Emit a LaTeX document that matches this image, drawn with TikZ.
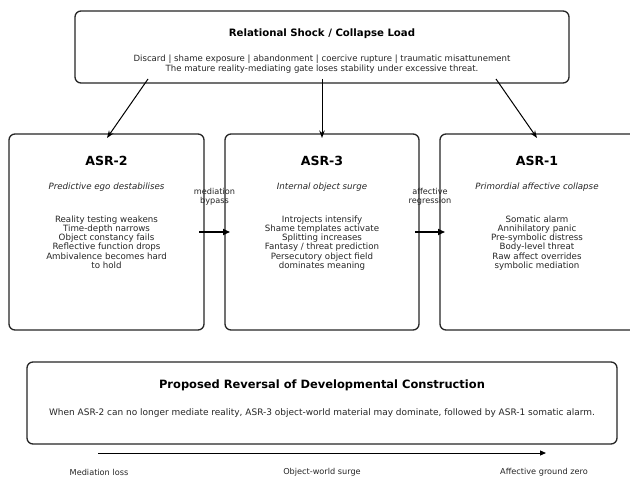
\documentclass[tikz,border=0pt]{standalone}
\usepackage{fontspec}
\setmainfont{DejaVu Sans}
\usetikzlibrary{arrows.meta}
\begin{document}
\begin{tikzpicture}[x=1bp,y=-1bp,
  panel/.style={draw=black!85,line width=1.3bp,rounded corners=6bp},
  ttl/.style={font=\fontsize{10.2}{12}\selectfont\bfseries},
  asrttl/.style={font=\fontsize{12.6}{14}\selectfont\bfseries},
  sub/.style={font=\fontsize{8.7}{10}\selectfont\itshape,text=black!85},
  body/.style={font=\fontsize{8.7}{9.1}\selectfont,align=center,text=black!85,anchor=north,inner sep=0pt},
  lbl/.style={font=\fontsize{8.2}{9.2}\selectfont,align=center,text=black!85},
  arr/.style={-{Stealth[length=7.5bp,width=5.5bp]},line width=1bp},
  harr/.style={-{Triangle[length=7bp,width=6bp]},line width=1.6bp}]
\useasboundingbox[fill=white] (0,0) rectangle (630,478);

% top box: relational shock
\draw[panel] (75,11) rectangle (569,83);
\node[ttl] (shock) at (322,34) {Relational Shock / Collapse Load};
\node[body,font=\fontsize{8.6}{9.6}\selectfont] (shockbody) at (322,55) {Discard | shame exposure | abandonment | coercive rupture | traumatic misattunement\\The mature reality-mediating gate loses stability under excessive threat.};

% three ASR panels
\draw[panel] (9,134) rectangle (204,330);
\draw[panel] (225,134) rectangle (419,330);
\draw[panel] (440,134) rectangle (640,330);

\node[asrttl] (t2) at (106.5,161) {ASR-2};
\node[sub] (s2) at (106.5,187) {Predictive ego destabilises};
\node[body] (b2) at (106.5,216) {Reality testing weakens\\Time-depth narrows\\Object constancy fails\\Reflective function drops\\Ambivalence becomes hard\\to hold};

\node[asrttl] (t3) at (322,161) {ASR-3};
\node[sub] (s3) at (322,187) {Internal object surge};
\node[body] (b3) at (322,216) {Introjects intensify\\Shame templates activate\\Splitting increases\\Fantasy / threat prediction\\Persecutory object field\\dominates meaning};

\node[asrttl] (t1) at (537,161) {ASR-1};
\node[sub] (s1) at (537,187) {Primordial affective collapse};
\node[body] (b1) at (537,216) {Somatic alarm\\Annihilatory panic\\Pre-symbolic distress\\Body-level threat\\Raw affect overrides\\symbolic mediation};

% arrows from the shock box
\coordinate (a1s) at (148,79); \coordinate (a1e) at (107,138);
\coordinate (a2s) at (322,79); \coordinate (a2e) at (322,138);
\coordinate (a3s) at (496,79); \coordinate (a3e) at (537,138);
\draw[arr] (a1s) -- (a1e);
\draw[arr] (a2s) -- (a2e);
\draw[arr] (a3s) -- (a3e);

% transitions between panels
\coordinate (h1s) at (199,232); \coordinate (h1e) at (230,232);
\coordinate (h2s) at (415,232); \coordinate (h2e) at (445,232);
\draw[harr] (h1s) -- (h1e);
\draw[harr] (h2s) -- (h2e);
\node[lbl] (m1) at (214.5,197) {mediation\\bypass};
\node[lbl] (m2) at (430,197) {affective\\regression};

% bottom summary box
\draw[panel] (27,362) rectangle (617,444);
\node[ttl,font=\fontsize{11.5}{13}\selectfont\bfseries] (rev) at (322,385.5) {Proposed Reversal of Developmental Construction};
\node[lbl,font=\fontsize{9}{10.5}\selectfont] (revtxt) at (322,413) {When ASR-2 can no longer mediate reality, ASR-3 object-world material may dominate, followed by ASR-1 somatic alarm.};

% direction axis
\coordinate (axs) at (98,453); \coordinate (axe) at (546,453);
\draw[-{Triangle[length=6bp,width=5bp]},line width=1bp] (axs) -- (axe);
\node[lbl] (l1) at (99,472) {Mediation loss};
\node[lbl] (l2) at (322,472) {Object-world surge};
\node[lbl] (l3) at (544,472) {Affective ground zero};
\end{tikzpicture}
\end{document}
